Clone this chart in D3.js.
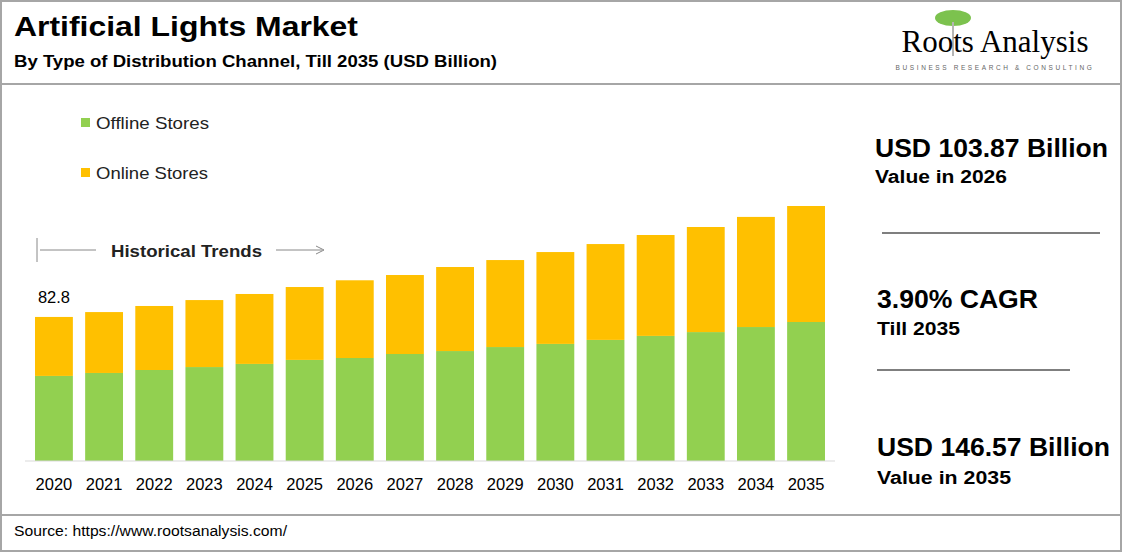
<!DOCTYPE html>
<html><head><meta charset="utf-8">
<script src="https://cdn.jsdelivr.net/npm/d3@7"></script>
<style>body{margin:0;background:#fff}text{font-family:Arial,"Liberation Sans",sans-serif}</style>
</head><body><svg id="c" width="1123" height="553"></svg>
<script>
const years = ["2020","2021","2022","2023","2024","2025","2026","2027","2028","2029","2030","2031","2032","2033","2034","2035"];
const totals = [82.8,85.6,89.1,92.5,96.0,100.0,103.87,106.9,111.5,115.5,120.1,124.7,129.9,134.5,140.3,146.57];
const offline = [48.9,50.6,52.3,54.0,55.8,58.1,59.2,61.5,63.2,65.5,67.3,69.6,71.9,74.1,77.0,79.9];
const online = totals.map((t,i) => +(t - offline[i]).toFixed(2));
const colors = {offline:"#92d050", online:"#ffc000"};

const svg = d3.select("#c");
// text helper, stretched to the widths seen in the reference
function txt(x0, y0, size, str, w, bold, fill) {
  const t = svg.append("text").attr("x",x0).attr("y",y0).attr("font-size",size)
    .attr("font-weight",bold ? "bold" : null).attr("fill",fill || "#000").text(str);
  if (w) t.attr("textLength",w).attr("lengthAdjust","spacingAndGlyphs");
  return t;
}
// frame
svg.append("rect").attr("x",1).attr("y",1).attr("width",1120).attr("height",550).attr("fill","none").attr("stroke","#a6a6a6").attr("stroke-width",2);
svg.append("line").attr("x1",1).attr("x2",1121).attr("y1",84).attr("y2",84).attr("stroke","#a6a6a6").attr("stroke-width",2);
svg.append("line").attr("x1",1).attr("x2",1121).attr("y1",515).attr("y2",515).attr("stroke","#a6a6a6").attr("stroke-width",2);

txt(14,36,28,"Artificial Lights Market",344,true);
txt(14,67,16,"By Type of Distribution Channel, Till 2035 (USD Billion)",483,true);
txt(14,536,14,"Source: https://www.rootsanalysis.com/",273);

// logo
const g = svg.append("g");
g.append("ellipse").attr("cx",953).attr("cy",18).attr("rx",18).attr("ry",8).attr("fill","#7cc24e");
g.append("line").attr("x1",953).attr("x2",953).attr("y1",22).attr("y2",56).attr("stroke","#b5b5b5").attr("stroke-width",2);
g.append("text").attr("x",995).attr("y",52).attr("text-anchor","middle").style("font-family","'Liberation Serif',serif").attr("font-size",31).text("Roots Analysis");
g.append("text").attr("x",995).attr("y",70).attr("text-anchor","middle").attr("font-size",6.5).attr("letter-spacing",2.6).attr("fill","#666").text("BUSINESS RESEARCH & CONSULTING");

// chart
const base = 461;
const x = d3.scaleBand().domain(years).range([30,830]).paddingInner(0.245).paddingOuter(0.1);
const y = d3.scaleLinear().domain([0,146.57]).range([base,206]);
const stack = d3.stack().keys(["offline","online"])(years.map((yr,i)=>({year:yr,offline:offline[i],online:online[i]})));
svg.append("g").selectAll("g").data(stack).join("g").attr("fill",d=>colors[d.key])
  .selectAll("rect").data(d=>d).join("rect")
  .attr("x",d=>x(d.data.year)).attr("width",x.bandwidth())
  .attr("y",d=>y(d[1])).attr("height",d=>y(d[0])-y(d[1]));
svg.append("line").attr("x1",25).attr("x2",835).attr("y1",base).attr("y2",base).attr("stroke","#d9d9d9");
const ax = svg.append("g").attr("transform",`translate(0,${base})`).call(d3.axisBottom(x).tickSize(0).tickPadding(17));
ax.select(".domain").remove();
ax.selectAll("text").attr("font-size",16.5).attr("fill","#000").style("font-family","Arial,sans-serif");
svg.append("text").attr("x",x("2020")+x.bandwidth()/2).attr("y",303).attr("text-anchor","middle").attr("font-size",16.5).text(totals[0]);

// legend
[["Offline Stores","offline",123,113],["Online Stores","online",173,112]].forEach(([t,k,yy,w])=>{
  svg.append("rect").attr("x",81).attr("y",yy-5).attr("width",9).attr("height",9).attr("fill",colors[k]);
  txt(96,yy+6,16.5,t,w,false,"#222");
});

// historical trends
svg.append("line").attr("x1",37).attr("x2",37).attr("y1",238).attr("y2",262).attr("stroke","#888");
svg.append("line").attr("x1",40).attr("x2",96).attr("y1",250).attr("y2",250).attr("stroke","#888");
svg.append("line").attr("x1",276).attr("x2",322).attr("y1",250).attr("y2",250).attr("stroke","#888");
svg.append("path").attr("d","M316,246 L324,250 L316,254").attr("fill","none").attr("stroke","#888");
txt(111,257,17,"Historical Trends",151,true,"#222");

// right panel
const side = [["USD 103.87 Billion","Value in 2026",875,157,183,233,132],["3.90% CAGR","Till 2035",877,308,335,161,83],["USD 146.57 Billion","Value in 2035",877,456,484,233,134]];
side.forEach(([a,b,xx,y1,y2,w1,w2])=>{
  txt(xx,y1,25,a,w1,true);
  txt(xx,y2,17.5,b,w2,true);
});
svg.append("line").attr("x1",882).attr("x2",1100).attr("y1",233).attr("y2",233).attr("stroke","#7f7f7f").attr("stroke-width",2);
svg.append("line").attr("x1",877).attr("x2",1070).attr("y1",370).attr("y2",370).attr("stroke","#7f7f7f").attr("stroke-width",2);
</script></body></html>
